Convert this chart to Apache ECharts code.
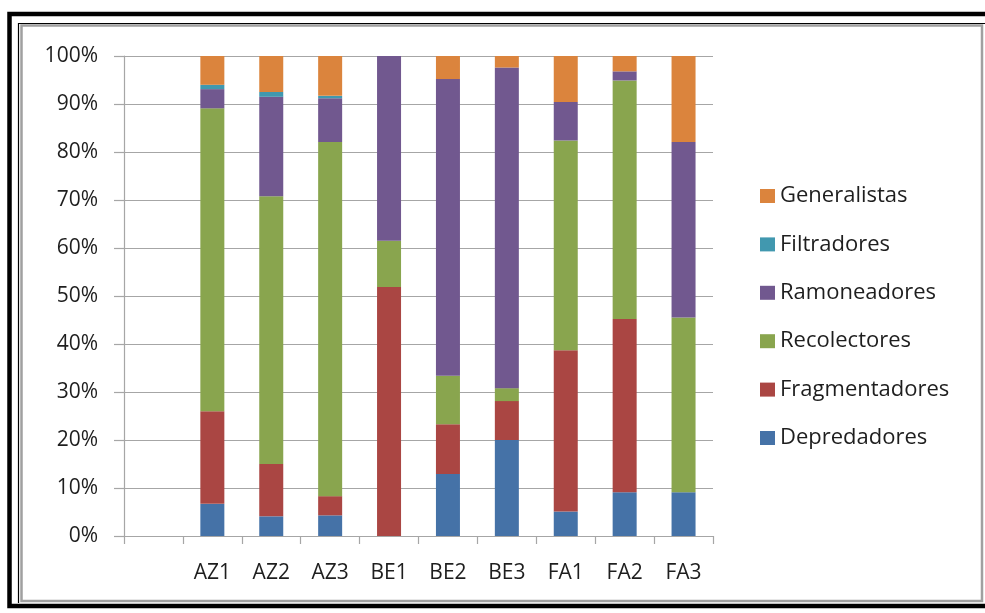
<!DOCTYPE html>
<html>
<head>
<meta charset="utf-8">
<script src="https://cdn.jsdelivr.net/npm/echarts@6/dist/echarts.min.js"></script>
<style>
  html, body { margin: 0; padding: 0; background: #ffffff; }
  #chart { width: 985px; height: 613px; }
</style>
</head>
<body>
<div id="chart"></div>
<script>
// Sampling sites (first slot is left empty on the axis)
const categories = ['', 'AZ1', 'AZ2', 'AZ3', 'BE1', 'BE2', 'BE3', 'FA1', 'FA2', 'FA3'];

// Share of each functional feeding group per site (%)
const depredadores   = [null, 6.7, 4.1, 4.3, 0.0, 12.9, 20.0, 5.1, 9.1, 9.1];
const fragmentadores = [null, 19.3, 10.9, 4.0, 51.9, 10.4, 8.1, 33.6, 36.1, 0.0];
const recolectores   = [null, 63.1, 55.8, 73.8, 9.6, 10.1, 2.7, 43.7, 49.7, 36.4];
const ramoneadores   = [null, 4.0, 20.7, 9.1, 38.5, 61.8, 66.8, 8.0, 1.9, 36.6];
const filtradores    = [null, 0.9, 1.0, 0.5, 0.0, 0.0, 0.0, 0.0, 0.0, 0.0];
const generalistas   = [null, 6.0, 7.5, 8.3, 0.0, 4.8, 2.4, 9.6, 3.2, 17.9];

const groupNames = ['Depredadores', 'Fragmentadores', 'Recolectores', 'Ramoneadores', 'Filtradores', 'Generalistas'];
const groupValues = [depredadores, fragmentadores, recolectores, ramoneadores, filtradores, generalistas];
const groupColors = ['#4572A7', '#AA4643', '#89A54E', '#71588F', '#4198AF', '#DB843D'];

const yTicks = { min: 0, max: 100, step: 10 };

const font = '"Open Sans", "Liberation Sans", sans-serif';
const gridGray = '#a6a6a6';

const chart = echarts.init(document.getElementById('chart'), null, { renderer: 'canvas' });

const series = groupNames.map((name, i) => ({
  name: name,
  type: 'bar',
  stack: 'total',
  barWidth: 24,
  data: groupValues[i],
  itemStyle: { color: groupColors[i] },
  emphasis: { disabled: true }
}));

chart.setOption({
  animation: false,
  backgroundColor: '#ffffff',
  graphic: [
    // outer heavy frame
    { type: 'rect', silent: true, z: 100,
      shape: { x: 9.5, y: 14, width: 980, height: 592 },
      style: { fill: null, stroke: '#000000', lineWidth: 4.5 } },
    // thin dark edge of the chart area
    { type: 'polyline', silent: true, z: 100,
      shape: { points: [[18.5, 603], [18.5, 23.5], [985, 23.5]] },
      style: { fill: null, stroke: '#000000', lineWidth: 1.2 } },
    // grey chart-area border
    { type: 'rect', silent: true, z: 100,
      shape: { x: 21.5, y: 25.5, width: 960.5, height: 575.5 },
      style: { fill: null, stroke: '#a0a0a0', lineWidth: 2.5 } }
  ],
  grid: { left: 124, right: 272, top: 56, bottom: 77, containLabel: false },
  legend: {
    orient: 'vertical',
    left: 755,
    top: 180,
    itemWidth: 15,
    itemHeight: 14,
    itemGap: 26.4,
    icon: 'rect',
    data: groupNames.slice().reverse(),
    textStyle: { fontFamily: font, fontSize: 22, color: '#1e1e1e', lineHeight: 22 }
  },
  xAxis: {
    type: 'category',
    data: categories,
    boundaryGap: true,
    axisLine: { show: true, lineStyle: { color: gridGray, width: 1.2 } },
    axisTick: { show: true, length: 8, lineStyle: { color: gridGray, width: 1.2 } },
    axisLabel: { fontFamily: font, fontSize: 21, color: '#1e1e1e', margin: 27, interval: 0 },
    splitLine: { show: false }
  },
  yAxis: {
    type: 'value',
    min: yTicks.min,
    max: yTicks.max,
    interval: yTicks.step,
    axisLine: { show: true, lineStyle: { color: gridGray, width: 1.2 } },
    axisTick: { show: true, length: 10, lineStyle: { color: gridGray, width: 1.2 } },
    axisLabel: { fontFamily: font, fontSize: 21, color: '#1e1e1e', margin: 26, formatter: '{value}%' },
    splitLine: { show: true, lineStyle: { color: gridGray, width: 1.2 } }
  },
  series: series
});
</script>
</body>
</html>
